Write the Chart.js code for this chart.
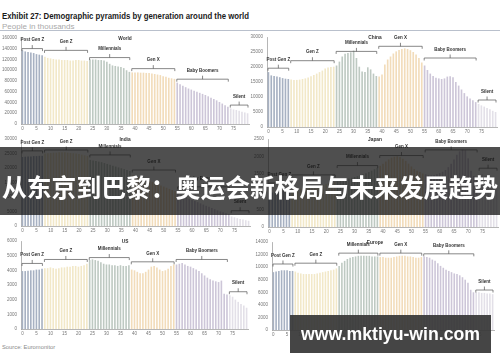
<!DOCTYPE html>
<html lang="en">
<head>
<meta charset="UTF-8">
<title>Demographic pyramids by generation</title>
<script src="https://cdn.jsdelivr.net/npm/chart.js"></script>
<style>
  body { margin: 0; background: #fff; }
  #page { position: relative; width: 500px; height: 362px; overflow: hidden; background: #fff; }
  .abs { position: absolute; white-space: nowrap; }
  #title { left: 2px; top: 10.5px; font: bold 9.5px/9.5px 'Liberation Sans Narrow', 'Liberation Sans', Arial, sans-serif; color: #1a1a1a; transform-origin: left top; }
  #subtitle { left: 2px; top: 21.5px; font: 8px/9px 'Liberation Sans', Arial, sans-serif; color: #a9a9a9; }
  #rule { left: 0; top: 30px; width: 500px; height: 1px; background: #b9c0cc; }
  #source { left: 2px; top: 343.5px; font: 5.8px/7px 'Liberation Sans', Arial, sans-serif; color: #8a8a8a; }
  #banner { left: 0; top: 147px; width: 500px; height: 68px; background: rgba(20, 20, 20, 0.75); }
  #bannerText { left: 2px; top: 171px; font: bold 25px/30px 'Noto Sans CJK SC', sans-serif; color: #fff; transform-origin: left center; }
  #wm { left: 290px; top: 315px; width: 201px; height: 38px; background: rgba(55, 55, 55, 0.93); color: #fff;
        font: bold 17.7px/38px 'Liberation Sans', Arial, sans-serif; text-align: center; }
  canvas { position: absolute; }
</style>
</head>
<body>
<div id="page">
  <div id="title" class="abs">Exhibit 27: Demographic pyramids by generation around the world</div>
  <div id="subtitle" class="abs">People in thousands</div>
  <div id="rule" class="abs"></div>
  <div id="source" class="abs">Source: Euromonitor</div>
</div>

<script>
// ages 0..80, one bar per year of age
const ages = [0, 1, 2, 3, 4, 5, 6, 7, 8, 9, 10, 11, 12, 13, 14, 15, 16, 17, 18, 19, 20,
  21, 22, 23, 24, 25, 26, 27, 28, 29, 30, 31, 32, 33, 34, 35, 36, 37, 38, 39, 40,
  41, 42, 43, 44, 45, 46, 47, 48, 49, 50, 51, 52, 53, 54, 55, 56, 57, 58, 59, 60,
  61, 62, 63, 64, 65, 66, 67, 68, 69, 70, 71, 72, 73, 74, 75, 76, 77, 78, 79, 80];
// ages that get a label under the axis
const ageTicks = [0, 5, 10, 15, 20, 25, 30, 35, 40, 45, 50, 55, 60, 65, 70, 75];

const genNames = ['Post Gen Z', 'Gen Z', 'Millennials', 'Gen X', 'Baby Boomers', 'Silent'];
const genFirstAge = [0, 8, 24, 39, 55, 74];
const genLastAge = [7, 23, 38, 54, 73, 80];
const genColors = ['#a7b1c2', '#f2e8c8', '#bec9c2', '#f2dcba', '#cdc6d8', '#e3e0e8'];

// population by age, thousands
const worldPop = [137000, 135000, 134000, 133000, 132000, 130000, 129000, 128000,
  125000, 123000, 122000, 121000, 120000, 120000, 119000, 119000, 119000, 118000, 118000, 119000, 119000, 118000, 118000, 117000,
  120000, 120000, 120000, 119000, 119000, 118000, 116000, 112000, 109000, 108000, 107000, 106000, 104000, 100000, 97000,
  96000, 96000, 96000, 95500, 95500, 95000, 95000, 94000, 93000, 92000, 91000, 89000, 88000, 86000, 85000, 84000,
  77000, 74000, 71000, 68500, 66000, 64000, 62000, 60000, 58000, 56000, 54000, 51500, 49000, 46500, 44000, 41000, 38000, 35000, 32000,
  29000, 27000, 26000, 24500, 23000, 21500, 20000];
const chinaPop = [18300, 17200, 17000, 16800, 16600, 16300, 16100, 16000,
  15800, 15700, 15700, 15800, 16000, 16200, 16500, 16900, 17300, 17800, 18300, 18800, 19500, 19800, 20000, 20100,
  20500, 21800, 23500, 24400, 24700, 24900, 25500, 23000, 20100, 18500, 18300, 19900, 19200, 17800, 17000,
  16800, 17500, 20800, 22500, 23500, 24500, 25200, 25700, 26000, 26200, 26000, 25600, 25000, 24200, 23000, 21500,
  20500, 19000, 17800, 17000, 16400, 16200, 16000, 16200, 16800, 16900, 16600, 15000, 13800, 12500, 11300, 10200, 9500, 8900, 8300,
  7700, 7200, 6800, 6300, 5900, 5400, 5000];
const indiaPop = [23800, 23900, 24000, 24000, 24100, 24100, 24200, 24200,
  25000, 25100, 25200, 25300, 25300, 25400, 25400, 25400, 25300, 25200, 25100, 25000, 24800, 24600, 24400, 24200,
  22800, 22600, 22400, 22200, 22000, 21700, 21400, 21100, 20800, 20500, 20200, 19900, 19600, 19300, 19000,
  17500, 17200, 16900, 16600, 16300, 16000, 15600, 15200, 14800, 14400, 14000, 13600, 13200, 12800, 12400, 12000,
  11000, 10600, 10200, 9800, 9400, 9000, 8600, 8200, 7800, 7400, 7000, 6600, 6200, 5800, 5400, 5000, 4700, 4400, 4100,
  3300, 3000, 2700, 2400, 2200, 2000, 1800];
const japanPop = [960, 980, 1000, 1010, 1020, 1030, 1040, 1050,
  1060, 1070, 1080, 1090, 1100, 1110, 1120, 1130, 1140, 1150, 1180, 1200, 1220, 1240, 1260, 1280,
  1300, 1320, 1340, 1360, 1380, 1400, 1420, 1440, 1470, 1500, 1530, 1560, 1600, 1640, 1680,
  1740, 1800, 1860, 1920, 1970, 2000, 2010, 1990, 1940, 1880, 1800, 1720, 1650, 1600, 1560, 1520,
  1500, 1480, 1470, 1480, 1500, 1530, 1570, 1620, 1700, 1800, 1920, 2050, 2150, 2200, 2180, 1950, 1600, 1450, 1400,
  1480, 1500, 1450, 1380, 1300, 1220, 1150];
const usPop = [3950, 3950, 3980, 4000, 4000, 4050, 4050, 4100,
  4150, 4150, 4200, 4150, 4100, 4150, 4200, 4200, 4250, 4250, 4300, 4300, 4250, 4300, 4350, 4450,
  4700, 4750, 4700, 4650, 4550, 4450, 4400, 4400, 4350, 4350, 4300, 4350, 4300, 4300, 4350,
  4050, 4000, 3900, 3800, 3800, 3900, 4050, 4250, 4300, 4200, 4050, 3950, 4000, 4100, 4300, 4400,
  4400, 4450, 4500, 4400, 4300, 4250, 4150, 4050, 3950, 3800, 3650, 3500, 3400, 3300, 3250, 3200, 3300, 2400, 2350,
  2300, 2200, 2000, 1850, 1700, 1600, 1450];
const europePop = [9200, 9300, 9400, 9500, 9500, 9500, 9400, 9400,
  9300, 9100, 9000, 8900, 8900, 8900, 8900, 8900, 9000, 9100, 9200, 9300, 9400, 9500, 9600, 9800,
  10200, 10700, 11000, 11300, 11500, 11600, 11700, 11800, 11800, 11800, 11800, 11800, 11700, 11700, 11700,
  11600, 11600, 11500, 11500, 11500, 11600, 11700, 11800, 11800, 11800, 11700, 11700, 11600, 11500, 11500, 11600,
  11700, 11600, 11500, 11200, 11000, 10600, 10200, 9900, 9600, 9400, 9200, 9000, 8900, 8700, 8400, 8000, 7500, 6400, 6000,
  6000, 6000, 5900, 5900, 5800, 5800, 5700];

// height of each generation bracket, in the chart's own units
const worldBrackets = [140300, 137000, 123600, 103000, 83400, 35200];
const chinaBrackets = [19600, 22100, 25200, 26900, 23000, 9000];
const indiaBrackets = [25900, 26200, 24500, 19300, 13500, 5260];
const japanBrackets = [1250, 1480, 1745, 2030, 2190, 1670];
const usBrackets = [4470, 4740, 4870, 4580, 4740, 2540];
const europeBrackets = [10500, 10630, 12230, 12230, 12120, 6360];

// y-axis tick labels
const worldTicks = [0, 20000, 40000, 60000, 80000, 100000, 120000, 140000, 160000];
const chinaTicks = [0, 5000, 10000, 15000, 20000, 25000, 30000];
const indiaTicks = [0, 5000, 10000, 15000, 20000, 25000, 30000];
const japanTicks = [0, 500, 1000, 1500, 2000, 2500];
const usTicks = [0, 1000, 2000, 3000, 4000, 5000, 6000];
const europeTicks = [0, 2000, 4000, 6000, 8000, 10000, 12000, 14000];

const panes = [
  { title: 'World',  values: worldPop,  levels: worldBrackets,  ticks: worldTicks,  area: { l: 21, t: 38, r: 249, b: 124 }, col: 0 },
  { title: 'China',  values: chinaPop,  levels: chinaBrackets,  ticks: chinaTicks,  area: { l: 267, t: 37, r: 497, b: 127 }, col: 1 },
  { title: 'India',  values: indiaPop,  levels: indiaBrackets,  ticks: indiaTicks,  area: { l: 21, t: 139, r: 250, b: 226 }, col: 0 },
  { title: 'Japan',  values: japanPop,  levels: japanBrackets,  ticks: japanTicks,  area: { l: 268, t: 139, r: 498, b: 227 }, col: 1 },
  { title: 'US',     values: usPop,     levels: usBrackets,     ticks: usTicks,     area: { l: 21, t: 241, r: 248, b: 329 }, col: 0 },
  { title: 'Europe', values: europePop, levels: europeBrackets, ticks: europeTicks, area: { l: 272, t: 242, r: 494, b: 330 }, col: 1 }
];

const YW = 21, PT = 8, PR = 3, XH = 10;
const FONT = "'Liberation Sans', Arial, sans-serif";

function genOf(age) {
  for (let g = 0; g < genFirstAge.length; g++) {
    if (age >= genFirstAge[g] && age <= genLastAge[g]) return g;
  }
  return genFirstAge.length - 1;
}

// brackets over each generation + small pane title
const bracketPlugin = {
  id: 'genBrackets',
  afterDatasetsDraw(chart, args, opts) {
    const { ctx, scales: { x, y } } = chart;
    const half = x.width / ages.length / 2;
    ctx.save();
    ctx.strokeStyle = '#555';
    ctx.lineWidth = 0.7;
    ctx.fillStyle = '#333';
    ctx.font = 'bold 4.5px ' + FONT;
    ctx.textAlign = 'center';
    ctx.textBaseline = 'middle';
    opts.levels.forEach((lvl, g) => {
      const x1 = x.getPixelForValue(ages.indexOf(genFirstAge[g])) - half + 1;
      const x2 = x.getPixelForValue(ages.indexOf(genLastAge[g])) + half - 1;
      const yy = y.getPixelForValue(lvl);
      const xc = (x1 + x2) / 2;
      ctx.beginPath();
      ctx.moveTo(x1, yy + 2.5);
      ctx.lineTo(x1, yy);
      ctx.lineTo(x2, yy);
      ctx.lineTo(x2, yy + 2.5);
      ctx.moveTo(xc, yy);
      ctx.lineTo(xc, yy - 3.5);
      ctx.stroke();
      ctx.fillText(genNames[g], xc, yy - 8.5);
    });
    ctx.font = 'bold 4.8px ' + FONT;
    ctx.fillText(opts.title, opts.cx, chart.chartArea.top + 1);
    ctx.restore();
  }
};

const page = document.getElementById('page');

panes.forEach(p => {
  const left = p.area.l - YW;
  const top = p.area.t - PT;
  const w = p.area.r - left + PR;
  const h = p.area.b - top + XH;
  const cv = document.createElement('canvas');
  cv.width = w; cv.height = h;
  cv.style.left = left + 'px'; cv.style.top = top + 'px';
  cv.style.width = w + 'px'; cv.style.height = h + 'px';
  page.appendChild(cv);

  new Chart(cv, {
    type: 'bar',
    data: {
      labels: ages,
      datasets: [{
        data: p.values,
        backgroundColor: ages.map(a => genColors[genOf(a)]),
        barPercentage: 0.58,
        categoryPercentage: 1
      }]
    },
    options: {
      responsive: false,
      animation: false,
      devicePixelRatio: 1,
      layout: { padding: { top: PT, right: PR, left: 0, bottom: 0 } },
      plugins: {
        legend: { display: false },
        tooltip: { enabled: false },
        genBrackets: { levels: p.levels, title: p.title, cx: p.col * 250 + 125 - left }
      },
      scales: {
        x: {
          grid: { display: false, drawTicks: false },
          border: { display: true, color: '#a3a3a3', width: 0.8 },
          ticks: {
            autoSkip: false, maxRotation: 0, minRotation: 0, padding: 2,
            color: '#777', font: { size: 4.5, family: FONT },
            callback: (v, i) => (ageTicks.includes(ages[i]) ? String(ages[i]) : '')
          },
          afterFit: s => { s.height = XH; }
        },
        y: {
          min: 0,
          max: p.ticks[p.ticks.length - 1],
          grid: { display: false, drawTicks: false },
          border: { display: true, color: '#a3a3a3', width: 0.8 },
          ticks: { padding: 4, color: '#777', font: { size: 4.5, family: FONT }, callback: v => String(v) },
          afterBuildTicks: s => { s.ticks = p.ticks.map(v => ({ value: v })); },
          afterFit: s => { s.width = YW; }
        }
      }
    },
    plugins: [bracketPlugin]
  });
});

// overlays on top of the charts
const banner = document.createElement('div');
banner.id = 'banner'; banner.className = 'abs';
page.appendChild(banner);
const bannerText = document.createElement('div');
bannerText.id = 'bannerText'; bannerText.className = 'abs';
bannerText.textContent = '从东京到巴黎：奥运会新格局与未来发展趋势';
page.appendChild(bannerText);
const wm = document.createElement('div');
wm.id = 'wm'; wm.className = 'abs';
wm.textContent = 'www.mktiyu-win.com';
page.appendChild(wm);

// squeeze the wide texts to the width they take in the picture
function fitWidth(el, target) {
  const w = el.getBoundingClientRect().width;
  if (w > 0) el.style.transform = 'scaleX(' + (target / w) + ')';
}
fitWidth(document.getElementById('title'), 247);
fitWidth(bannerText, 496);
</script>
</body>
</html>
